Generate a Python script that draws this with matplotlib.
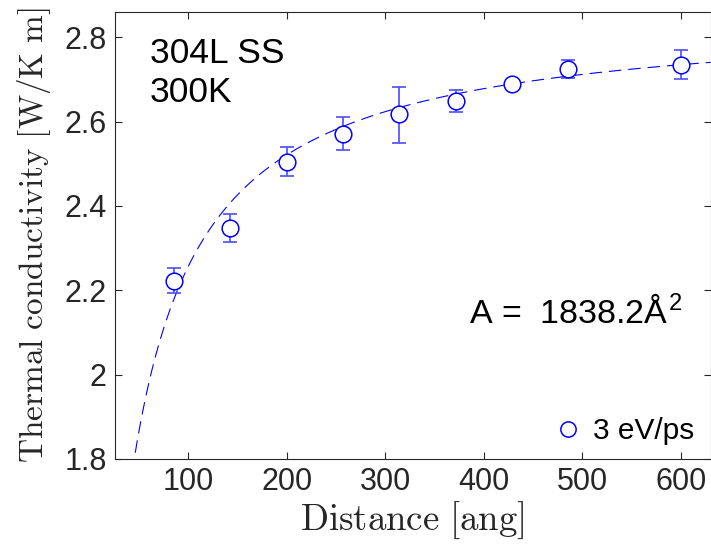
import numpy as np
import matplotlib
matplotlib.use("Agg")
import matplotlib.pyplot as plt
from matplotlib.lines import Line2D

plt.rcParams['font.family'] = ['Liberation Sans', 'DejaVu Sans']
plt.rcParams['mathtext.fontset'] = 'cm'
plt.rcParams['lines.scale_dashes'] = False

# Data
distance = [85.7, 142.8, 200.0, 257.0, 314.0, 371.5, 428.0, 485.0, 600.0]
conductivity = [2.221, 2.347, 2.504, 2.570, 2.617, 2.649, 2.689, 2.724, 2.735]
err_low = [0.027, 0.032, 0.033, 0.037, 0.067, 0.026, 0.006, 0.021, 0.034]
err_high = [0.031, 0.034, 0.035, 0.040, 0.064, 0.025, 0.006, 0.022, 0.036]

# Fit: 1/k = a + b/L
fit_a = 0.3501
fit_b = 9.31
fit_L = np.linspace(30, 630, 400)
fit_k = 1.0 / (fit_a + fit_b / fit_L)

xticks = [100, 200, 300, 400, 500, 600]
yticks = [1.8, 2.0, 2.2, 2.4, 2.6, 2.8]
ytick_labels = ['1.8', '2', '2.2', '2.4', '2.6', '2.8']

blue = '#0000ff'
gray = '#262626'

fig = plt.figure(figsize=(7.11, 5.48), dpi=100)
ax = fig.add_axes([115/711, (548-459)/548, (711-115)/711 - 0.0005, (459-12)/548])

ax.plot(fit_L, fit_k, color=blue, lw=0.8, dashes=(9, 5), zorder=2)
ax.errorbar(distance, conductivity, yerr=[err_low, err_high], fmt='none',
            ecolor='#4d4dff', elinewidth=1.2, capsize=5, capthick=1.2, zorder=3)
ax.plot(distance, conductivity, 'o', mfc='white', mec=blue, mew=1.1, ms=12,
        linestyle='none', zorder=4)

ax.set_xlim(25.8, 630)
ax.set_ylim(1.8, 2.86)
ax.set_xticks(xticks)
ax.set_yticks(yticks)
ax.set_yticklabels(ytick_labels)
ax.tick_params(direction='in', length=5, width=0.8, colors=gray,
               labelsize=22, top=True, right=True, pad=6)
for s in ax.spines.values():
    s.set_color(gray)
    s.set_linewidth(0.8)

ax.set_xlabel(r'$\mathrm{Distance\ [ang]}$', fontsize=26.5, color=gray, labelpad=2)
ax.set_ylabel(r'$\mathrm{Thermal\ conductivity\ [W/K\ m]}$', fontsize=24,
              color=gray, labelpad=8)

ax.text(0.0587, 0.885, '304L SS', transform=ax.transAxes, fontsize=25.5,
        color='black', va='baseline', ha='left')
ax.text(0.0587, 0.799, '300K', transform=ax.transAxes, fontsize=25.5,
        color='black', va='baseline', ha='left')
ax.text(0.594, 0.302, r'A =  1838.2Å$^{\mathregular{2}}$', transform=ax.transAxes,
        fontsize=24.5, color='black', va='baseline', ha='left')

proxy = Line2D([], [], marker='o', mfc='white', mec=blue, mew=1.1, ms=11,
               linestyle='none')
ax.legend([proxy], ['3 eV/ps'], loc='lower right', bbox_to_anchor=(0.973, 0.031),
          frameon=False, fontsize=21.5, borderpad=0, handlelength=1.0,
          handletextpad=0.35, borderaxespad=0)

fig.savefig('out.png', dpi=100)
